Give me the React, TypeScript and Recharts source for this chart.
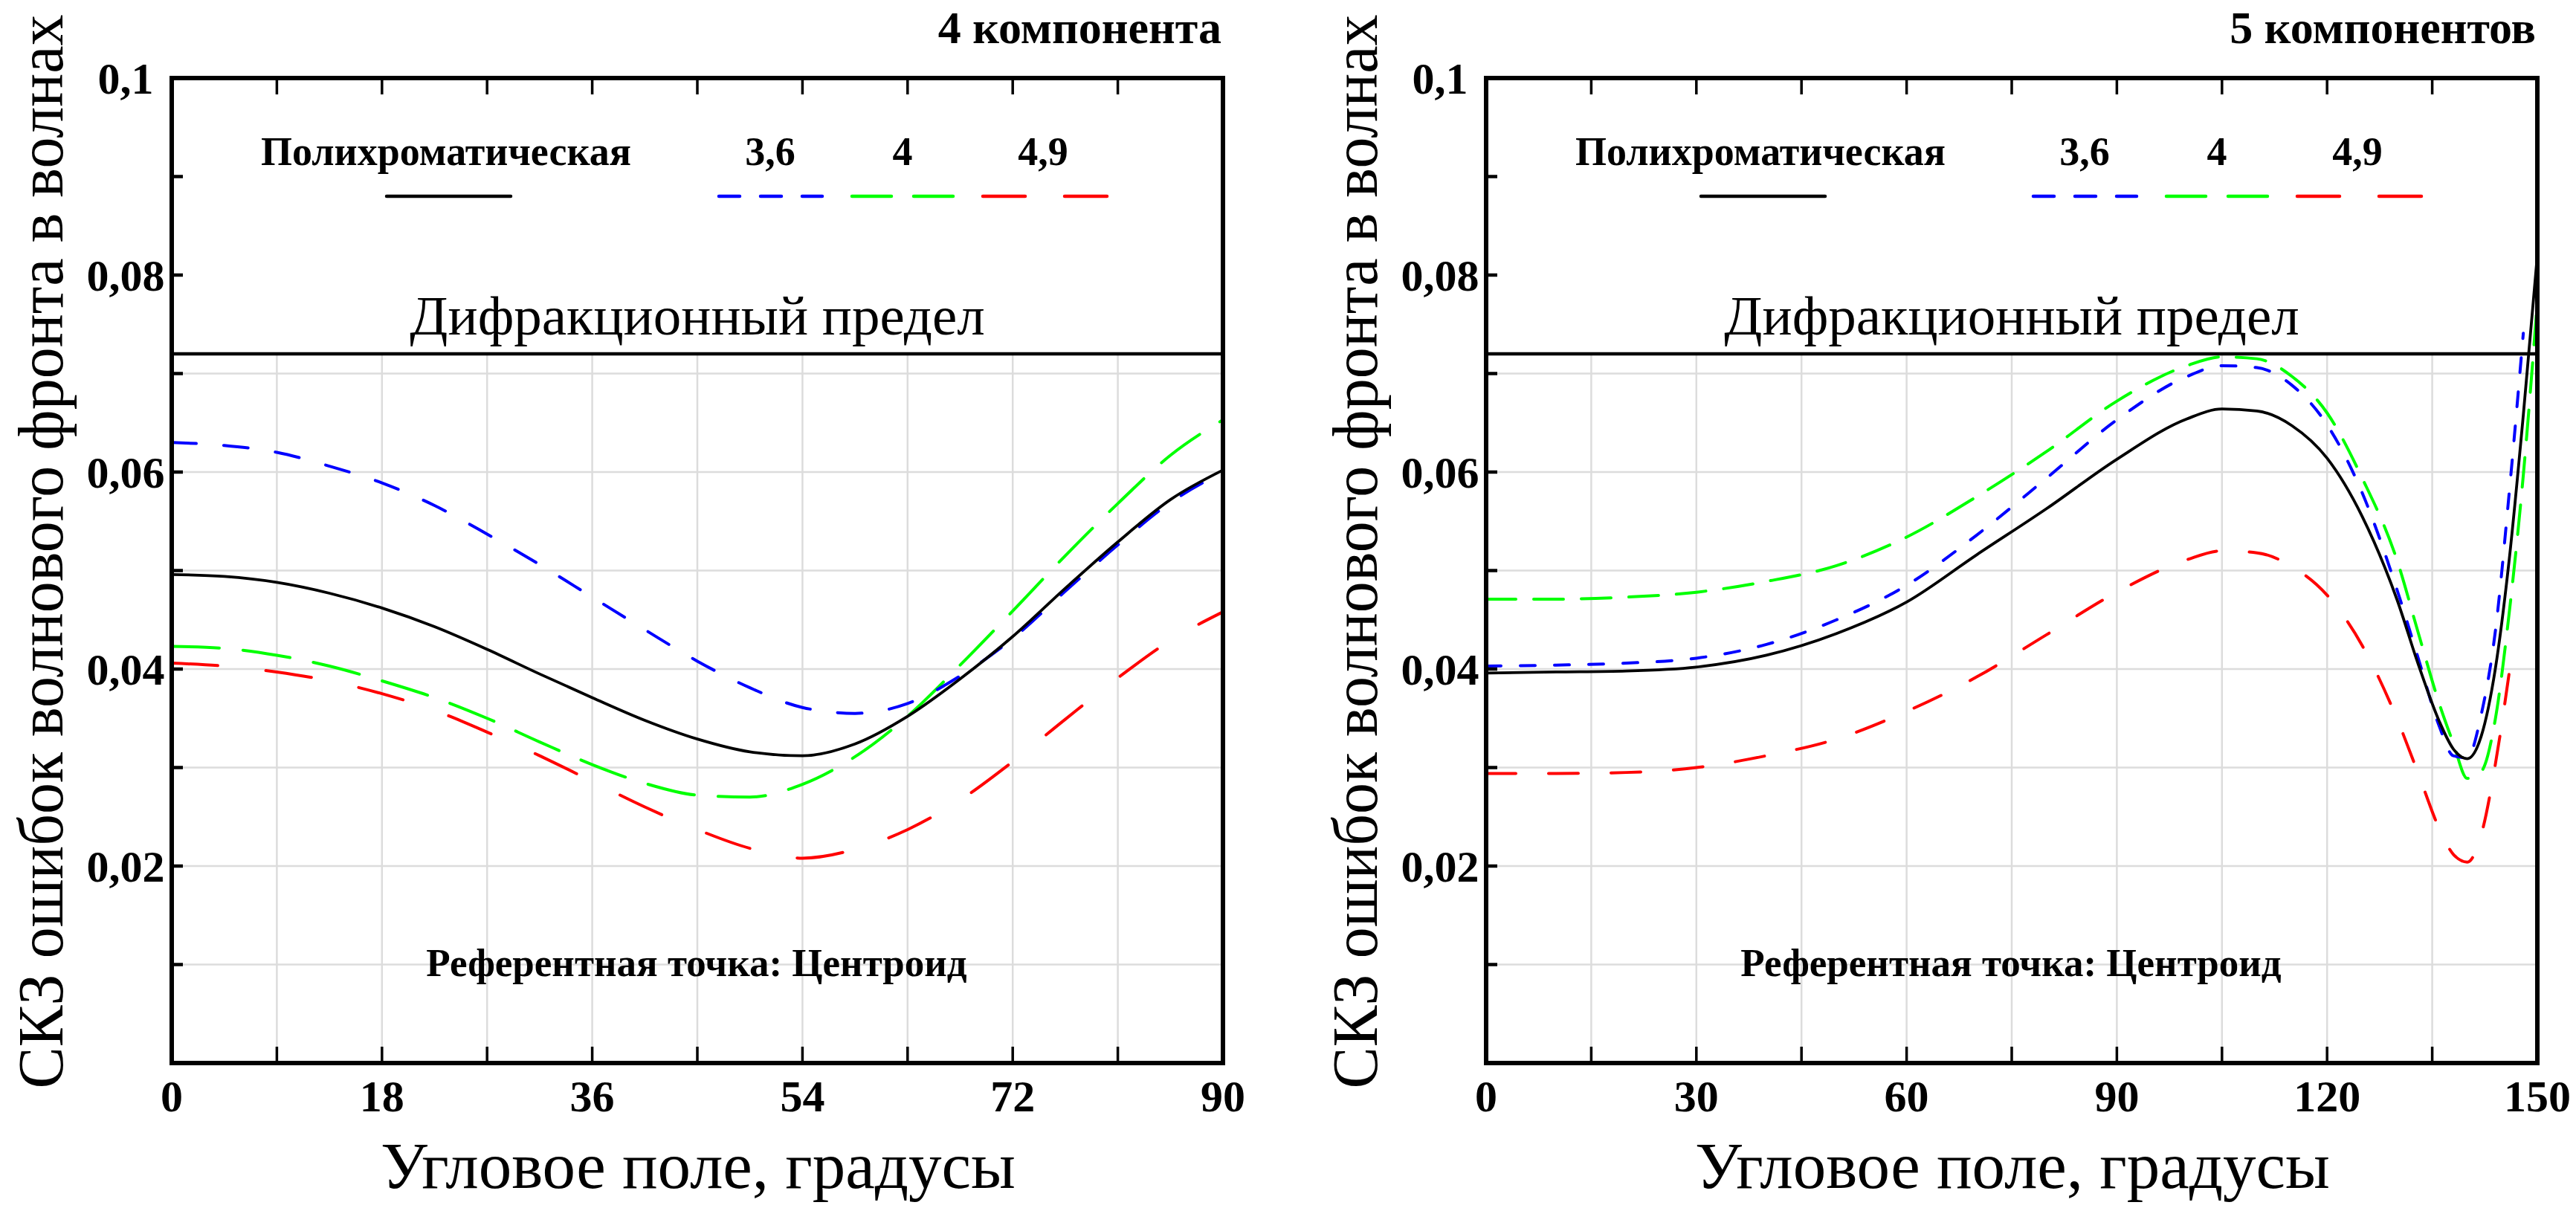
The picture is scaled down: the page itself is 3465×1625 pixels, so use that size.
import React from "react"
import { CartesianGrid, Line, LineChart, ReferenceArea, ReferenceLine, XAxis, YAxis } from "recharts"

const SERIF = '"Liberation Serif", "Times New Roman", serif'

// left panel: 4 components
const leftAngles = [0, 4.5, 9, 13.5, 18, 22.5, 27, 31.5, 36, 40.5, 45, 49.5, 54, 58.5, 63, 67.5, 72, 76.5, 81, 85.5, 90]
const leftPoly = [0.0496, 0.0494, 0.0488, 0.0477, 0.0462, 0.0443, 0.042, 0.0395, 0.0371, 0.0348, 0.0329, 0.0316, 0.0312, 0.0324, 0.0352, 0.039, 0.0433, 0.0482, 0.0529, 0.0572, 0.0602]
const left36 = [0.063, 0.0627, 0.062, 0.0606, 0.0589, 0.0566, 0.0537, 0.0506, 0.0473, 0.044, 0.0408, 0.0381, 0.0361, 0.0355, 0.0365, 0.0393, 0.0431, 0.0479, 0.0526, 0.0569, 0.06]
const left4 = [0.0423, 0.0421, 0.0414, 0.0403, 0.0388, 0.0371, 0.035, 0.0326, 0.0303, 0.0284, 0.0272, 0.027, 0.0283, 0.0311, 0.0352, 0.0404, 0.0459, 0.0515, 0.0568, 0.0617, 0.0653]
const left49 = [0.0406, 0.0403, 0.0397, 0.0388, 0.0375, 0.0358, 0.0336, 0.0312, 0.0286, 0.026, 0.0237, 0.0218, 0.0208, 0.0217, 0.0237, 0.0267, 0.0306, 0.0349, 0.0391, 0.0429, 0.0458]

// right panel: 5 components
const rightAngles = [0, 10, 20, 30, 40, 50, 60, 70, 80, 90, 100, 105, 110, 115, 120, 125, 130, 133, 136, 138, 140, 142, 144, 146, 148, 150]
const rightPoly = [0.0396, 0.0397, 0.0398, 0.0402, 0.0414, 0.0436, 0.0468, 0.0516, 0.0563, 0.0613, 0.0654, 0.0664, 0.0662, 0.0647, 0.0614, 0.0555, 0.047, 0.0405, 0.0347, 0.0319, 0.0309, 0.0332, 0.04, 0.0512, 0.0658, 0.082]
const right36 = [0.0403, 0.0404, 0.0406, 0.0411, 0.0425, 0.045, 0.0485, 0.0536, 0.0594, 0.0653, 0.0697, 0.0708, 0.0706, 0.0688, 0.0648, 0.0579, 0.048, 0.0411, 0.0342, 0.0312, 0.031, 0.0354, 0.0438, 0.058, 0.0741, null]
const right4 = [0.0471, 0.0471, 0.0473, 0.0478, 0.0489, 0.0505, 0.0534, 0.0575, 0.0621, 0.0672, 0.0708, 0.0717, 0.0715, 0.0697, 0.066, 0.0594, 0.051, 0.0437, 0.0365, 0.0325, 0.0289, 0.0296, 0.0349, 0.0458, 0.0597, 0.0773]
const right49 = [0.0294, 0.0294, 0.0295, 0.03, 0.0312, 0.0329, 0.0357, 0.0392, 0.0435, 0.0478, 0.0511, 0.052, 0.0518, 0.0504, 0.0475, 0.0424, 0.0349, 0.0294, 0.0238, 0.0212, 0.0204, 0.0232, 0.0303, 0.0397, null, null]

const leftXTicks = [0, 9, 18, 27, 36, 45, 54, 63, 72, 81, 90]
const leftXLabels = [0, 18, 36, 54, 72, 90]
const rightXTicks = [0, 15, 30, 45, 60, 75, 90, 105, 120, 135, 150]
const rightXLabels = [0, 30, 60, 90, 120, 150]
const yTicks = [0, 0.01, 0.02, 0.03, 0.04, 0.05, 0.06, 0.07, 0.08, 0.09, 0.1]
const yLabels = [0.02, 0.04, 0.06, 0.08, 0.1]
const diffLimit = 0.072

const legendNames = ["Полихроматическая", "3,6", "4", "4,9"]

const leftData = leftAngles.map((a, i) => ({ angle: a, poly: leftPoly[i], w36: left36[i], w4: left4[i], w49: left49[i] }))
const rightData = rightAngles.map((a, i) => ({ angle: a, poly: rightPoly[i], w36: right36[i], w4: right4[i], w49: right49[i] }))

const W = 1730
const H = 1625
const PLOT_L = 231
const PLOT_T = 105
const PLOT_R = 1645
const PLOT_B = 1430
const LW = 120
const RW = 10
const BH = 60
const TH = 10
const SHIFT = 1768

const fmt = (v: number) => String(v).replace(".", ",")
const near = (v: number, list: number[]) => list.some((m) => Math.abs(m - v) < 1e-9)

const bottomTick = (xMax: number, labels: number[]) => (p: any) => {
  const v = p.payload.value
  return (
    <g>
      {v > 0 && v < xMax && <line x1={p.x} x2={p.x} y1={p.y} y2={p.y - 22} stroke="#000" strokeWidth={3.5} />}
      {near(v, labels) && (
        <text x={p.x} y={p.y + 65} textAnchor="middle" fontFamily={SERIF} fontWeight="bold" fontSize={60} fill="#000">
          {v}
        </text>
      )}
    </g>
  )
}

const topTick = (xMax: number) => (p: any) => {
  const v = p.payload.value
  return <g>{v > 0 && v < xMax && <line x1={p.x} x2={p.x} y1={p.y} y2={p.y + 22} stroke="#000" strokeWidth={3.5} />}</g>
}

const leftTick = (p: any) => {
  const v = p.payload.value
  return (
    <g>
      {v > 0.0001 && v < 0.0999 && <line x1={p.x} x2={p.x + 15} y1={p.y} y2={p.y} stroke="#000" strokeWidth={4.5} />}
      {near(v, yLabels) && (
        <text x={p.x - 62} y={p.y + 21} textAnchor="middle" fontFamily={SERIF} fontWeight="bold" fontSize={60} fill="#000">
          {fmt(v)}
        </text>
      )}
    </g>
  )
}

const rightTick = (p: any) => {
  const v = p.payload.value
  return <g>{v > 0.0001 && v < 0.0999 && <line x1={p.x - 15} x2={p.x} y1={p.y} y2={p.y} stroke="#000" strokeWidth={4.5} />}</g>
}

type Dashes = { b: string; g: string; r: string }

const Panel = ({ data, xMax, xTicks, xLabels, dashes, left }: { data: any[]; xMax: number; xTicks: number[]; xLabels: number[]; dashes: Dashes; left: number }) => {
  const frame = { stroke: "#000", strokeWidth: 6, strokeLinecap: "square" as const }
  return (
    <div style={{ position: "absolute", left, top: 0 }}>
      <LineChart
        width={W}
        height={H}
        data={data}
        margin={{ top: PLOT_T - TH, left: PLOT_L - LW, right: W - PLOT_R - RW, bottom: H - PLOT_B - BH }}
      >
        <CartesianGrid xAxisId="b" yAxisId="l" stroke="#dcdcdc" strokeWidth={2.5} />
        <ReferenceArea xAxisId="b" yAxisId="l" y1={diffLimit} y2={0.1} fill="#fff" fillOpacity={1} stroke="none" />
        <XAxis xAxisId="b" dataKey="angle" type="number" domain={[0, xMax]} ticks={xTicks} interval={0} height={BH}
          tickSize={0} tickMargin={0} tickLine={false} axisLine={frame} tick={bottomTick(xMax, xLabels)} />
        <XAxis xAxisId="t" orientation="top" dataKey="angle" type="number" domain={[0, xMax]} ticks={xTicks} interval={0} height={TH}
          tickSize={0} tickMargin={0} tickLine={false} axisLine={frame} tick={topTick(xMax)} />
        <YAxis yAxisId="l" type="number" domain={[0, 0.1]} ticks={yTicks} interval={0} width={LW}
          tickSize={0} tickMargin={0} tickLine={false} axisLine={frame} tick={leftTick} />
        <YAxis yAxisId="r" orientation="right" type="number" domain={[0, 0.1]} ticks={yTicks} interval={0} width={RW}
          tickSize={0} tickMargin={0} tickLine={false} axisLine={frame} tick={rightTick} />
        <ReferenceLine xAxisId="b" yAxisId="l" y={diffLimit} stroke="#000" strokeWidth={4.5}
          label={{ value: "Дифракционный предел", position: "top", offset: 26, fill: "#000", fontSize: 75, fontFamily: SERIF }} />
        <Line xAxisId="b" yAxisId="l" type="monotone" dataKey="w49" stroke="#ff0000" strokeWidth={4} strokeDasharray={dashes.r}
          strokeLinecap="round" dot={false} activeDot={false} isAnimationActive={false} />
        <Line xAxisId="b" yAxisId="l" type="monotone" dataKey="w4" stroke="#00ff00" strokeWidth={4} strokeDasharray={dashes.g}
          strokeLinecap="round" dot={false} activeDot={false} isAnimationActive={false} />
        <Line xAxisId="b" yAxisId="l" type="monotone" dataKey="w36" stroke="#0000ff" strokeWidth={4} strokeDasharray={dashes.b}
          strokeLinecap="round" dot={false} activeDot={false} isAnimationActive={false} />
        <Line xAxisId="b" yAxisId="l" type="monotone" dataKey="poly" stroke="#000" strokeWidth={3.8}
          dot={false} activeDot={false} isAnimationActive={false} />
      </LineChart>
    </div>
  )
}

const Texts = ({ dx, title }: { dx: number; title: string }) => (
  <g fontFamily={SERIF} fill="#000">
    <text x={84 + dx} y={742} transform={`rotate(-90 ${84 + dx} 742)`} textAnchor="middle" fontSize={87}
      textLength={1445} lengthAdjust="spacingAndGlyphs">
      СКЗ ошибок волнового фронта в волнах
    </text>
    <text x={939 + dx} y={1598} textAnchor="middle" fontSize={89}>
      Угловое поле, градусы
    </text>
    <text x={PLOT_R - 2 + dx} y={58} textAnchor="end" fontSize={62} fontWeight="bold">
      {title}
    </text>
    <text x={937 + dx} y={1313} textAnchor="middle" fontSize={53} fontWeight="bold">
      Референтная точка: Центроид
    </text>
    <text x={600 + dx} y={222} textAnchor="middle" fontSize={54} fontWeight="bold">{legendNames[0]}</text>
    <text x={1036 + dx} y={222} textAnchor="middle" fontSize={54} fontWeight="bold">{legendNames[1]}</text>
    <text x={1214 + dx} y={222} textAnchor="middle" fontSize={54} fontWeight="bold">{legendNames[2]}</text>
    <text x={1403 + dx} y={222} textAnchor="middle" fontSize={54} fontWeight="bold">{legendNames[3]}</text>
    <line x1={520 + dx} x2={687 + dx} y1={264} y2={264} stroke="#000" strokeWidth={4.5} strokeLinecap="round" />
    <line x1={967 + dx} x2={1106 + dx} y1={264} y2={264} stroke="#0000ff" strokeWidth={4.5} strokeDasharray="28 28" strokeLinecap="round" />
    <line x1={1146 + dx} x2={1283 + dx} y1={264} y2={264} stroke="#00ff00" strokeWidth={4.5} strokeDasharray="53 30" strokeLinecap="round" />
    <line x1={1322 + dx} x2={1489 + dx} y1={264} y2={264} stroke="#ff0000" strokeWidth={4.5} strokeDasharray="57 53" strokeLinecap="round" />
  </g>
)

export default function App() {
  return (
    <div style={{ position: "absolute", left: 0, top: 0, width: 3465, height: 1625, background: "#fff", overflow: "hidden" }}>
      <Panel data={leftData} xMax={90} xTicks={leftXTicks} xLabels={leftXLabels} dashes={{ b: "33 37", g: "64 32", r: "62 65" }} left={0} />
      <Panel data={rightData} xMax={150} xTicks={rightXTicks} xLabels={rightXLabels} dashes={{ b: "20 26", g: "40 24", r: "40 44" }} left={SHIFT} />
      <svg width={3465} height={1625} style={{ position: "absolute", left: 0, top: 0, pointerEvents: "none" }}>
        <Texts dx={0} title="4 компонента" />
        <Texts dx={SHIFT} title="5 компонентов" />
      </svg>
    </div>
  )
}
